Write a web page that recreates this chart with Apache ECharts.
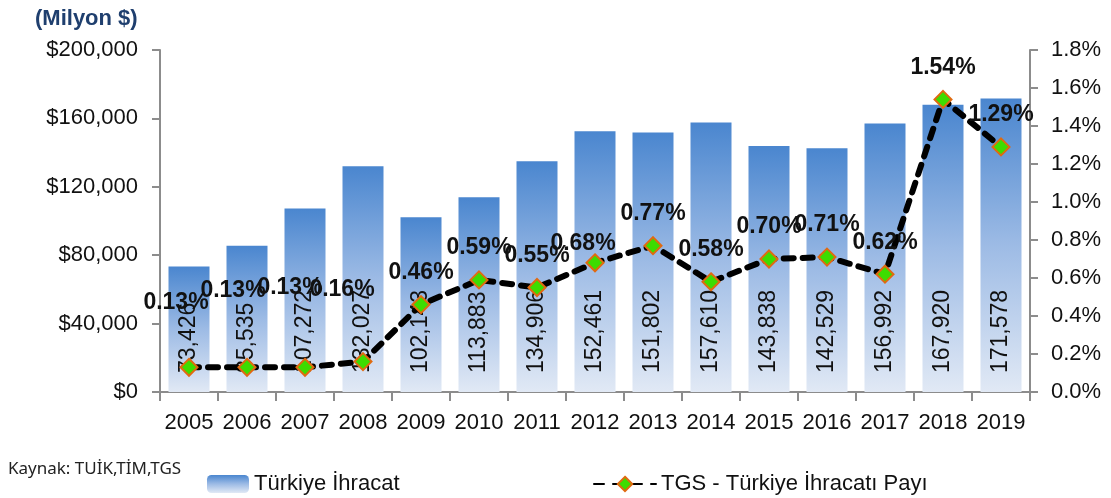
<!DOCTYPE html>
<html>
<head>
<meta charset="utf-8">
<script src="https://cdn.jsdelivr.net/npm/echarts@6/dist/echarts.min.js"></script>
<style>
  html, body { margin: 0; padding: 0; background: #fff; }
  #chart { width: 1111px; height: 498px; }
</style>
</head>
<body>
<div id="chart"></div>
<script>
// yıllar
const years = ["2005", "2006", "2007", "2008", "2009", "2010", "2011", "2012", "2013", "2014", "2015", "2016", "2017", "2018", "2019"];
// Türkiye ihracatı (milyon $)
const exportValues = [73426, 85535, 107272, 132027, 102143, 113883, 134906, 152461, 151802, 157610, 143838, 142529, 156992, 167920, 171578];
// TGS payı (%)
const tgsShare = [0.13, 0.13, 0.13, 0.16, 0.46, 0.59, 0.55, 0.68, 0.77, 0.58, 0.70, 0.71, 0.62, 1.54, 1.29];

// etiket kaydırmaları (x, y)
const pctLabelShift = [[-13, -33], [-14, -45], [-15, -48], [-21, -40], [0, 0], [0, 0], [0, 0], [-12, 13], [0, 0], [0, 0], [0, 0], [0, 0], [0, 0], [0, 0], [0, 0]];

const chart = echarts.init(document.getElementById("chart"));

const axisGray = "#8c8c8c";
const barGradient = new echarts.graphic.LinearGradient(0, 0, 0, 1, [
  { offset: 0, color: "#4a86cf" },
  { offset: 0.5, color: "#9dbbe5" },
  { offset: 1, color: "#e1e9f5" }
]);

const option = {
  animation: false,
  title: [
    {
      text: "(Milyon $)",
      left: 30,
      top: 3,
      textStyle: { fontFamily: "Liberation Sans", fontWeight: "bold", fontSize: 22, color: "#1f3f6e" }
    },
    {
      text: "Kaynak: TUİK,TİM,TGS",
      left: 3,
      top: 456,
      textStyle: { fontFamily: "Noto Sans", fontWeight: "normal", fontSize: 17, color: "#222" }
    }
  ],
  legend: [
    {
      data: [{ name: "Türkiye İhracat", itemStyle: { color: barGradient } }],
      left: 202,
      top: 468,
      itemWidth: 42,
      itemHeight: 18,
      itemGap: 10,
      textStyle: { fontFamily: "Liberation Sans", fontSize: 22, color: "#111" }
    },
    {
      data: ["TGS - Türkiye İhracatı Payı"],
      left: 588,
      top: 468,
      itemWidth: 62,
      itemHeight: 18,
      textStyle: { fontFamily: "Liberation Sans", fontSize: 22, color: "#111" }
    }
  ],
  grid: { left: 160, right: 81, top: 50, bottom: 106 },
  xAxis: {
    type: "category",
    data: years,
    axisLine: { lineStyle: { color: axisGray, width: 2 } },
    axisTick: { show: true, length: 9, lineStyle: { color: axisGray, width: 2 } },
    axisLabel: { interval: 0, fontFamily: "Liberation Sans", fontSize: 22, color: "#111", margin: 20 }
  },
  yAxis: [
    {
      type: "value",
      min: 0,
      max: 200000,
      interval: 40000,
      splitLine: { show: false },
      axisLine: { show: true, lineStyle: { color: axisGray, width: 2 } },
      axisTick: { show: true, length: 8, lineStyle: { color: axisGray, width: 2 } },
      axisLabel: {
        fontFamily: "Liberation Sans",
        fontSize: 22,
        color: "#111",
        margin: 22,
        formatter: v => "$" + v.toLocaleString("en-US")
      }
    },
    {
      type: "value",
      min: 0,
      max: 1.8,
      interval: 0.2,
      splitLine: { show: false },
      axisLine: { show: true, lineStyle: { color: axisGray, width: 2 } },
      axisTick: { show: true, length: 8, lineStyle: { color: axisGray, width: 2 } },
      axisLabel: {
        fontFamily: "Liberation Sans",
        fontSize: 22,
        color: "#111",
        margin: 21,
        formatter: v => v.toFixed(1) + "%"
      }
    }
  ],
  series: [
    {
      name: "Türkiye İhracat",
      type: "bar",
      barWidth: 41,
      data: exportValues,
      itemStyle: { color: barGradient },
      label: {
        show: true,
        position: "insideBottom",
        distance: 19,
        rotate: 90,
        align: "left",
        verticalAlign: "middle",
        fontFamily: "Liberation Sans",
        fontSize: 23,
        color: "#111",
        formatter: p => p.value.toLocaleString("en-US")
      }
    },
    {
      name: "TGS - Türkiye İhracatı Payı",
      type: "line",
      yAxisIndex: 1,
      data: tgsShare.map((v, i) => ({
        value: v,
        label: { offset: pctLabelShift[i] }
      })),
      symbol: "diamond",
      symbolSize: 17,
      lineStyle: { color: "#000", width: 6, type: [10, 9], cap: "round" },
      itemStyle: { color: "#3ddc00", borderColor: "#e06a10", borderWidth: 2 },
      z: 5,
      label: {
        show: true,
        position: "top",
        distance: 11,
        fontFamily: "Liberation Sans",
        fontWeight: "bold",
        fontSize: 23,
        color: "#111",
        formatter: p => p.value.toFixed(2) + "%"
      }
    }
  ]
};

chart.setOption(option);
</script>
</body>
</html>
